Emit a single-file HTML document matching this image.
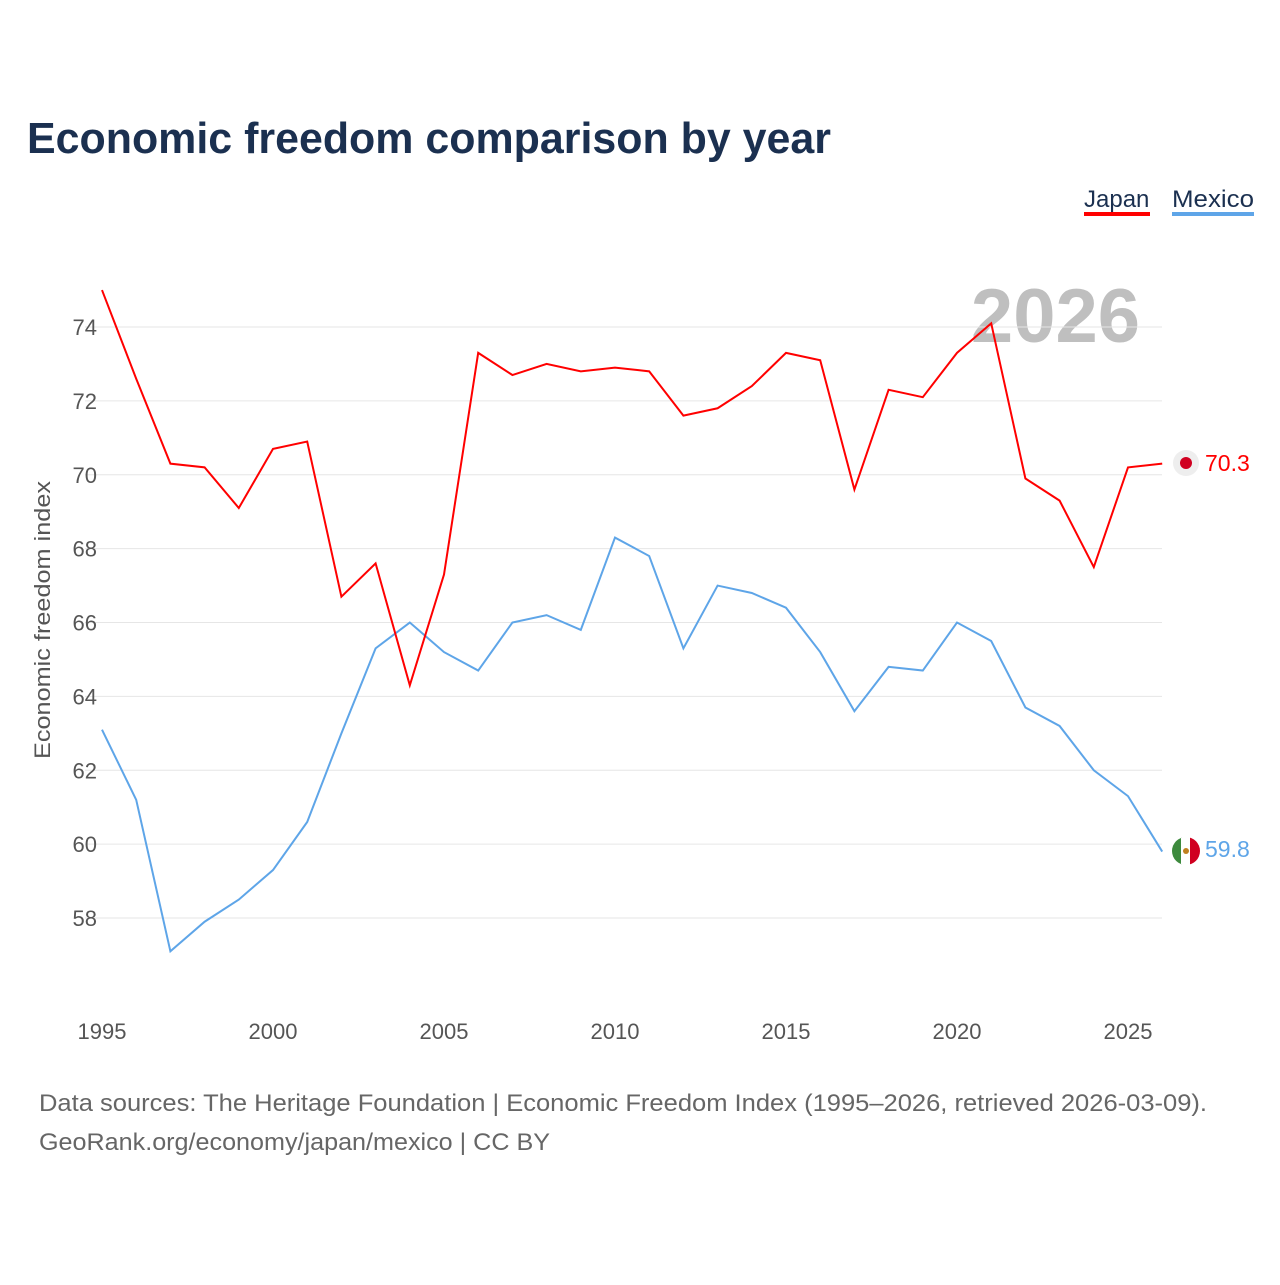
<!DOCTYPE html>
<html><head><meta charset="utf-8"><style>
body{margin:0;background:#fff;font-family:"Liberation Sans",sans-serif}
svg text{font-family:"Liberation Sans",sans-serif}
</style></head><body>
<svg id="chart" width="1280" height="1280" viewBox="0 0 1280 1280" xmlns="http://www.w3.org/2000/svg">
<text x="27" y="153" font-size="44" font-weight="bold" fill="#1b3050" textLength="804" lengthAdjust="spacingAndGlyphs">Economic freedom comparison by year</text>
<g>
<text x="1084" y="207" font-size="24" fill="#1b3050">Japan</text>
<rect x="1084" y="212" width="66" height="4" fill="#ff0000"/>
<text x="1172" y="207" font-size="24" fill="#1b3050" textLength="82" lengthAdjust="spacingAndGlyphs">Mexico</text>
<rect x="1172" y="212" width="82" height="4" fill="#5ea5e8"/>
</g>
<text x="1140" y="342" font-size="76" font-weight="bold" fill="#bfbfbf" text-anchor="end">2026</text>
<text transform="translate(50,620) rotate(-90)" font-size="22" fill="#555" text-anchor="middle" textLength="278" lengthAdjust="spacingAndGlyphs">Economic freedom index</text>
<g id="grid"></g><g id="xt"></g><g id="lines"></g>
<g>
<circle cx="1186" cy="463" r="13" fill="#eee"/>
<circle cx="1186" cy="463" r="6" fill="#d00020"/>
<text x="1205" y="471" font-size="23" fill="#ff0000">70.3</text>
<clipPath id="fc"><circle cx="1186" cy="851" r="14"/></clipPath>
<g clip-path="url(#fc)"><rect x="1172" y="837" width="10" height="28" fill="#3d8a3d"/><rect x="1181" y="837" width="10" height="28" fill="#fff"/><rect x="1190" y="837" width="10" height="28" fill="#d00020"/><circle cx="1186" cy="851" r="3" fill="#c08020"/></g>
<text x="1205" y="857" font-size="23" fill="#5ea5e8">59.8</text>
</g>
<text x="39" y="1111" font-size="24" fill="#666" textLength="1168" lengthAdjust="spacingAndGlyphs">Data sources: The Heritage Foundation | Economic Freedom Index (1995–2026, retrieved 2026-03-09).</text>
<text x="39" y="1150" font-size="24" fill="#666" textLength="511" lengthAdjust="spacingAndGlyphs">GeoRank.org/economy/japan/mexico | CC BY</text>
</svg>
<script>
const years=[];for(let y=1995;y<=2026;y++)years.push(y);
const japan=[75.0,72.6,70.3,70.2,69.1,70.7,70.9,66.7,67.6,64.3,67.3,73.3,72.7,73.0,72.8,72.9,72.8,71.6,71.8,72.4,73.3,73.1,69.6,72.3,72.1,73.3,74.1,69.9,69.3,67.5,70.2,70.3];
const mexico=[63.1,61.2,57.1,57.9,58.5,59.3,60.6,63.0,65.3,66.0,65.2,64.7,66.0,66.2,65.8,68.3,67.8,65.3,67.0,66.8,66.4,65.2,63.6,64.8,64.7,66.0,65.5,63.7,63.2,62.0,61.3,59.8];
const yTicks=[58,60,62,64,66,68,70,72,74];
const xTicks=[1995,2000,2005,2010,2015,2020,2025];
const NS="http://www.w3.org/2000/svg";
const X=v=>102+(v-1995)*34.2;
const Y=v=>327+(74-v)*36.94;
const grid=document.getElementById('grid'),xt=document.getElementById('xt'),lines=document.getElementById('lines');
yTicks.forEach(t=>{
 const l=document.createElementNS(NS,'line');
 
 
 l.setAttribute('x1',85);l.setAttribute('x2',1162);l.setAttribute('y1',Y(t));l.setAttribute('y2',Y(t));l.setAttribute('stroke','#e6e6e6');
 grid.appendChild(l);
 const tx=document.createElementNS(NS,'text');
 
 
 tx.setAttribute('x',97);tx.setAttribute('y',Y(t)+8);tx.setAttribute('font-size',22);tx.setAttribute('fill','#555');tx.setAttribute('text-anchor','end');
 tx.textContent=t;grid.appendChild(tx);
});
xTicks.forEach(t=>{
 const tx=document.createElementNS(NS,'text');
 
 
 tx.setAttribute('x',X(t));tx.setAttribute('y',1039);tx.setAttribute('font-size',22);tx.setAttribute('fill','#555');tx.setAttribute('text-anchor','middle');
 tx.textContent=t;xt.appendChild(tx);
});
function line(data,color,name){
 const p=document.createElementNS(NS,'polyline');
 
 
 p.setAttribute('points',data.map((v,i)=>X(years[i])+','+Y(v)).join(' '));
 p.setAttribute('fill','none');p.setAttribute('stroke',color);p.setAttribute('stroke-width',2);
 lines.appendChild(p);
}
line(mexico,'#5ea5e8','mexico-line');
line(japan,'#ff0000','japan-line');
</script>
</body></html>
